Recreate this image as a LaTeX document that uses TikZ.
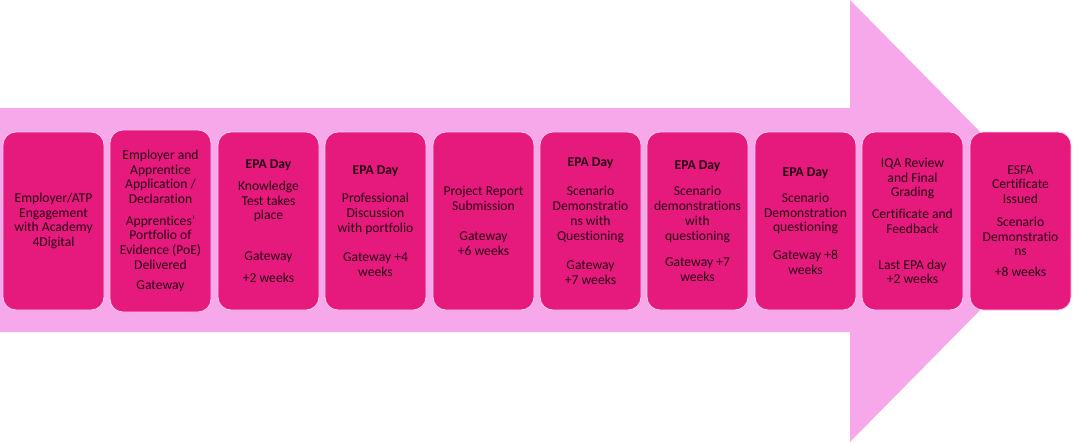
\documentclass[tikz,border=0pt]{standalone}
\usepackage{fontspec}
\setmainfont[Ligatures=NoCommon]{Carlito}
\usepackage{tikz}

\definecolor{roseclair}{RGB}{246,168,234}
\definecolor{rosefonce}{RGB}{230,26,124}
\definecolor{bordrose}{RGB}{250,205,240}
\definecolor{texte}{RGB}{40,0,22}

\begin{document}
\begin{tikzpicture}[x=1pt, y=-1pt]
			\tikzset{etape/.style={rectangle, rounded corners=13pt, fill=rosefonce, draw=bordrose, line width=0.8pt,
			text=texte, align=center, minimum width=101pt, minimum height=178pt, inner sep=0pt,
			font=\fontsize{13.6}{14.7}\selectfont},
			titre/.style={font=\bfseries}};

			\useasboundingbox (0,0) rectangle (1086,442);

			% grande fleche
			\fill[roseclair] (0,108) -- (850,108) -- (850,0) -- (1068,221) -- (850,442) -- (850,332) -- (0,332) -- cycle;

			\node[etape] (e1) at (53.5,221) {Employer/ATP\\Engagement\\with Academy\\4Digital};
			\node[etape, minimum height=182pt] (e2) at (160.5,221) {Employer and\\Apprentice\\Application /\\Declaration\\[7pt]
				Apprentices'\\Portfolio of\\Evidence (PoE)\\Delivered\\[6pt]Gateway};
			\node[etape] (e3) at (268.5,221) {\textbf{EPA Day}\\[7pt]Knowledge\\Test takes\\place\\[26pt]Gateway\\[7pt]+2 weeks};
			\node[etape] (e4) at (375.5,221) {\textbf{EPA Day}\\[14pt]Professional\\Discussion\\with portfolio\\[15pt]Gateway +4\\weeks};
			\node[etape] (e5) at (483.5,221) {Project Report\\Submission\\[16pt]Gateway\\+6 weeks};
			\node[etape] (e6) at (590.5,221) {\textbf{EPA Day}\\[15pt]Scenario\\Demonstratio\\ns with\\Questioning\\[15pt]Gateway\\+7 weeks};
			\node[etape] (e7) at (697.5,221) {\textbf{EPA Day}\\[12pt]Scenario\\demonstrations\\with\\questioning\\[12pt]Gateway +7\\weeks};
			\node[etape] (e8) at (805.5,221) {\textbf{EPA Day}\\[11pt]Scenario\\Demonstration\\questioning\\[13pt]Gateway +8\\weeks};
			\node[etape] (e9) at (912.5,221) {IQA Review\\and Final\\Grading\\[7pt]Certificate and\\Feedback\\[21pt]Last EPA day\\+2 weeks};
			\node[etape] (e10) at (1020.5,221) {ESFA\\Certificate\\Issued\\[8pt]Scenario\\Demonstratio\\ns\\[6pt]+8 weeks};

\end{tikzpicture}
\end{document}
